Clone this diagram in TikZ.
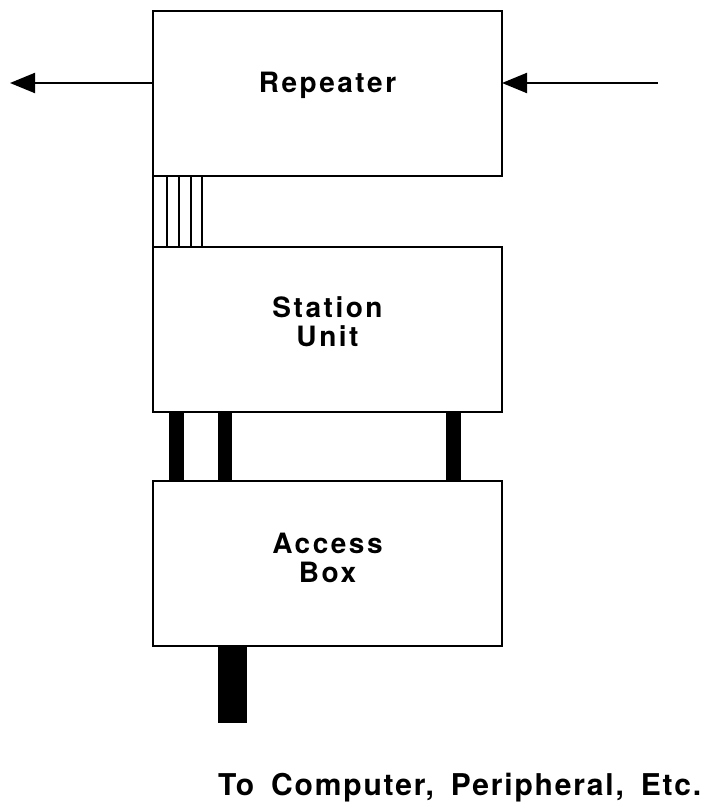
\documentclass[tikz,border=0pt]{standalone}
\usepackage{fontspec}
\newfontfamily\boxfont{TeX Gyre Heros}[LetterSpace=9]
\newfontfamily\notefont{TeX Gyre Heros}[LetterSpace=6]
\usepackage{tikz}
\usetikzlibrary{arrows.meta,positioning}

\newcommand{\gap}{\hspace{17pt}}

\begin{document}
\begin{tikzpicture}[
    x=1pt, y=-1pt,
    line width=2pt,
    unit/.style={draw, minimum width=349pt, minimum height=165pt, outer sep=0pt, inner sep=0pt},
    boxtxt/.style={font=\boxfont\bfseries\fontsize{28}{29}\selectfont, align=center}, % Beschriftung der Kästen
    sig/.style={-{Triangle[length=25pt,width=20pt]}},
    wire/.style={line width=1.6pt}
]
\useasboundingbox (0,0) rectangle (722,805);

\node[unit] (rep) at (327.5,94) {};
\node[unit, below=70pt of rep] (stn) {};
\node[unit, below=69pt of stn] (acc) {};

\node[boxtxt] (reptxt) at ([yshift=9pt]rep.center) {Repeater};
\node[boxtxt] (stntxt) at ([yshift=7pt]stn.center) {Station\\Unit};
\node[boxtxt] (acctxt) at ([yshift=5pt]acc.center) {Access\\Box};

\coordinate (lft) at (10,83);
\coordinate (rgt) at (658,83);
\draw[sig] (rep.west |- lft) -- (lft);
\draw[sig] (rgt) -- (rep.east |- rgt);

% dünne Leitungen
\draw (rep.south west) -- (stn.north west);
\foreach \dx in {14,26,38,49}
    \draw[wire] ([xshift=\dx pt]rep.south west) -- ([xshift=\dx pt]stn.north west);

% dicke Kabel
\foreach \a/\b in {16/31, 65/79, 293/308}
    \fill ([xshift=\a pt]stn.south west) rectangle ([xshift=\b pt]acc.north west);

\coordinate (cable) at (247,723);
\fill ([xshift=65pt]acc.south west) rectangle (cable);

\node[font=\notefont\bfseries\fontsize{30}{32}\selectfont, anchor=base west, inner sep=0pt] (dest) at (217,795)
    {To\gap Computer,\gap Peripheral,\gap Etc.};

\end{tikzpicture}
\end{document}
